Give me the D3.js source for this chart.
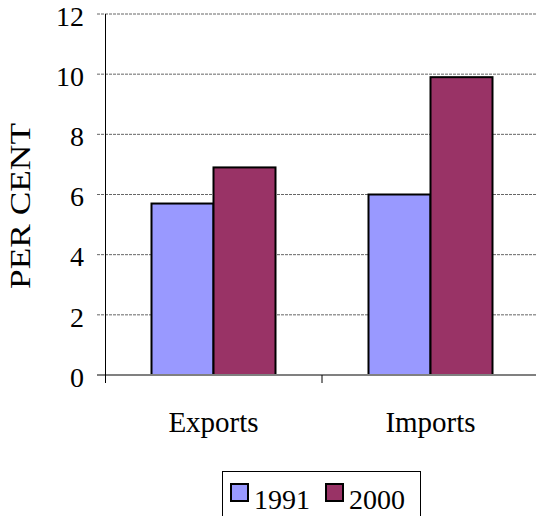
<!DOCTYPE html>
<html><head><meta charset="utf-8">
<script src="https://cdn.jsdelivr.net/npm/d3@7"></script>
<style>html,body{margin:0;padding:0;background:#fff;}svg{display:block;font-family:"Liberation Serif","Times New Roman",serif;}</style>
</head><body>
<svg id="c" width="536" height="516"></svg>
<script>
const categories = ["Exports", "Imports"];
const seriesNames = ["1991", "2000"];
const values1991 = [5.7, 6.0];
const values2000 = [6.9, 9.9];
const yTicks = [0, 2, 4, 6, 8, 10, 12];
const colors = ["#9999FF", "#993366"];

const svg = d3.select("#c");
const pL = 105, pR = 539, pT = 14, pB = 375;

const x = d3.scaleBand().domain(categories).range([pL, pR]).paddingInner(0).paddingOuter(0);
const xs = d3.scaleBand().domain(seriesNames).range([0, x.bandwidth()]).paddingOuter(0.75).paddingInner(0);
const y = d3.scaleLinear().domain([0, 12]).range([pB, pT]);

// gridlines
svg.append("g").selectAll("line").data(yTicks.filter(d => d > 0)).join("line")
  .attr("x1", 97).attr("x2", pR).attr("y1", d => y(d)).attr("y2", d => y(d))
  .attr("stroke", "#666").attr("stroke-width", 1).attr("stroke-dasharray", "3,1");

// bars
const data = categories.map((c, i) => ({c, vals: [values1991[i], values2000[i]]}));
const g = svg.append("g");
data.forEach(d => {
  d.vals.forEach((v, j) => {
    g.append("rect")
      .attr("x", x(d.c) + xs(seriesNames[j]))
      .attr("y", y(v))
      .attr("width", xs.bandwidth())
      .attr("height", y(0) - y(v))
      .attr("fill", colors[j]).attr("stroke", "#000").attr("stroke-width", 2);
  });
});

// x axis line (gray)
svg.append("line").attr("x1", 97).attr("x2", pR).attr("y1", pB).attr("y2", pB)
  .attr("stroke", "#808080").attr("stroke-width", 2);
// x category ticks
svg.append("g").selectAll("line").data(categories.slice(1)).join("line")
  .attr("x1", d => x(d)).attr("x2", d => x(d)).attr("y1", pB).attr("y2", pB + 8)
  .attr("stroke", "#000").attr("stroke-width", 1);

// y axis
const yAxis = d3.axisLeft(y).tickValues(yTicks).tickSize(8).tickPadding(13).tickFormat(d3.format("d"));
const ya = svg.append("g").attr("transform", `translate(${pL},0)`).call(yAxis);
ya.attr("font-family", null).attr("font-size", null);
ya.select(".domain").remove();
ya.selectAll(".tick line").remove();
ya.selectAll(".tick text").attr("font-size", 28).attr("font-family", "Liberation Serif").attr("fill", "#000").attr("dy", "0.40em");
svg.append("line").attr("x1", pL + 0.5).attr("x2", pL + 0.5).attr("y1", pT).attr("y2", pB + 8)
  .attr("stroke", "#000").attr("stroke-width", 1);

// category labels
svg.append("g").selectAll("text").data(categories).join("text")
  .attr("x", d => x(d) + x.bandwidth() / 2).attr("y", 432)
  .attr("text-anchor", "middle").attr("font-size", 29).text(d => d);

// y title
svg.append("text").attr("transform", "translate(30,206) rotate(-90)")
  .attr("text-anchor", "middle").attr("font-size", 29)
  .attr("textLength", 166).attr("lengthAdjust", "spacingAndGlyphs").text("PER CENT");

// legend
const lg = svg.append("g");
lg.append("rect").attr("x", 222.5).attr("y", 471.5).attr("width", 198).attr("height", 60)
  .attr("fill", "#fff").attr("stroke", "#000").attr("stroke-width", 1);
const legX = [231, 326];
seriesNames.forEach((s, i) => {
  lg.append("rect").attr("x", legX[i]).attr("y", 484).attr("width", 17).attr("height", 17)
    .attr("fill", colors[i]).attr("stroke", "#000").attr("stroke-width", 2);
  lg.append("text").attr("x", legX[i] + 23).attr("y", 509).attr("font-size", 28).text(s);
});
</script>
</body></html>
